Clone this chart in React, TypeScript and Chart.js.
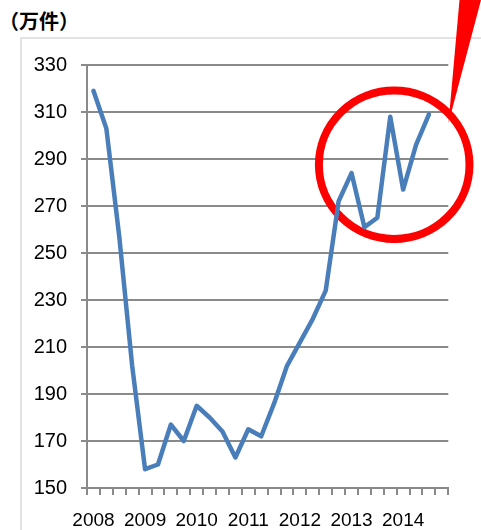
import React, { useEffect, useRef } from "react";
import { Chart, registerables } from "chart.js";

Chart.register(...registerables);

const categories: string[] = [
  "2008", "", "", "",
  "2009", "", "", "",
  "2010", "", "", "",
  "2011", "", "", "",
  "2012", "", "", "",
  "2013", "", "", "",
  "2014", "", "", "",
];

const values: (number | null)[] = [
  319, 303, 257, 202, 158, 160, 177, 170, 185, 180, 174, 163, 175, 172,
  186, 202, 212, 222, 234, 272, 284, 261, 265, 308, 277, 296, 309, null,
];

const yMin = 150;
const yMax = 330;
const yStep = 20;
const unitLabel = "（万件）";

const annotationPlugin = {
  id: "annot",
  beforeDatasetsDraw(chart: any) {
    const ctx = chart.ctx;
    ctx.save();
    ctx.strokeStyle = "#ff0000";
    ctx.lineWidth = 8;
    ctx.beginPath();
    ctx.ellipse(394.2, 164.7, 75.3, 74.2, 0, 0, Math.PI * 2);
    ctx.stroke();
    ctx.restore();
  },
  afterDraw(chart: any) {
    const ctx = chart.ctx;
    ctx.save();
    ctx.fillStyle = "#ff0000";
    ctx.beginPath();
    ctx.moveTo(459.5, 0);
    ctx.lineTo(481, 0);
    ctx.lineTo(448.5, 123);
    ctx.closePath();
    ctx.fill();
    ctx.restore();
  },
};

export default function App() {
  const ref = useRef<HTMLCanvasElement | null>(null);

  useEffect(() => {
    if (!ref.current) return;
    const gridColor = "#8a8a8a";
    const chart = new Chart(ref.current, {
      type: "line",
      data: {
        labels: categories,
        datasets: [
          {
            data: values,
            borderColor: "#4A7EBB",
            borderWidth: 4.5,
            pointRadius: 0,
            tension: 0,
            borderJoinStyle: "round",
            borderCapStyle: "round",
            fill: false,
          },
        ],
      },
      options: {
        responsive: false,
        animation: false,
        layout: { padding: { left: 0, top: 65, right: 32.7, bottom: 0 } },
        plugins: {
          legend: { display: false },
          tooltip: { enabled: false },
        },
        scales: {
          x: {
            type: "category",
            offset: true,
            grid: {
              offset: true,
              drawOnChartArea: false,
              drawTicks: true,
              tickLength: 7,
              color: gridColor,
              lineWidth: 2,
            },
            border: { display: true, color: gridColor, width: 2 },
            ticks: {
              autoSkip: false,
              maxRotation: 0,
              minRotation: 0,
              padding: 14,
              color: "#000",
              font: { family: "'Liberation Sans'", size: 19 },
            },
            afterFit(scale: any) {
              scale.height = 42;
            },
          },
          y: {
            min: yMin,
            max: yMax,
            ticks: {
              stepSize: yStep,
              padding: 14,
              color: "#000",
              font: { family: "'Liberation Sans'", size: 20 },
            },
            grid: {
              color: gridColor,
              lineWidth: 2,
              tickLength: 6,
              drawTicks: true,
            },
            border: { display: true, color: gridColor, width: 2 },
            afterFit(scale: any) {
              scale.width = 87;
            },
          },
        },
      },
      plugins: [annotationPlugin],
    });
    return () => chart.destroy();
  }, []);

  return (
    <div
      style={{
        position: "fixed",
        left: 0,
        top: 0,
        width: 481,
        height: 530,
        background: "#fff",
        overflow: "hidden",
      }}
    >
      <div
        style={{
          position: "absolute",
          left: 20,
          top: 37,
          width: 500,
          height: 520,
          borderLeft: "2px solid #e2e2e2",
          borderTop: "2px solid #e2e2e2",
        }}
      />
      <div
        style={{
          position: "absolute",
          left: -1,
          top: 10,
          fontFamily: "'Noto Sans CJK SC', sans-serif",
          fontWeight: "bold",
          fontSize: 20,
          lineHeight: "22px",
          color: "#000",
          whiteSpace: "nowrap",
        }}
      >
        {unitLabel}
      </div>
      <canvas
        ref={ref}
        width={481}
        height={530}
        style={{ position: "absolute", left: 0, top: 0, width: 481, height: 530 }}
      />
    </div>
  );
}
